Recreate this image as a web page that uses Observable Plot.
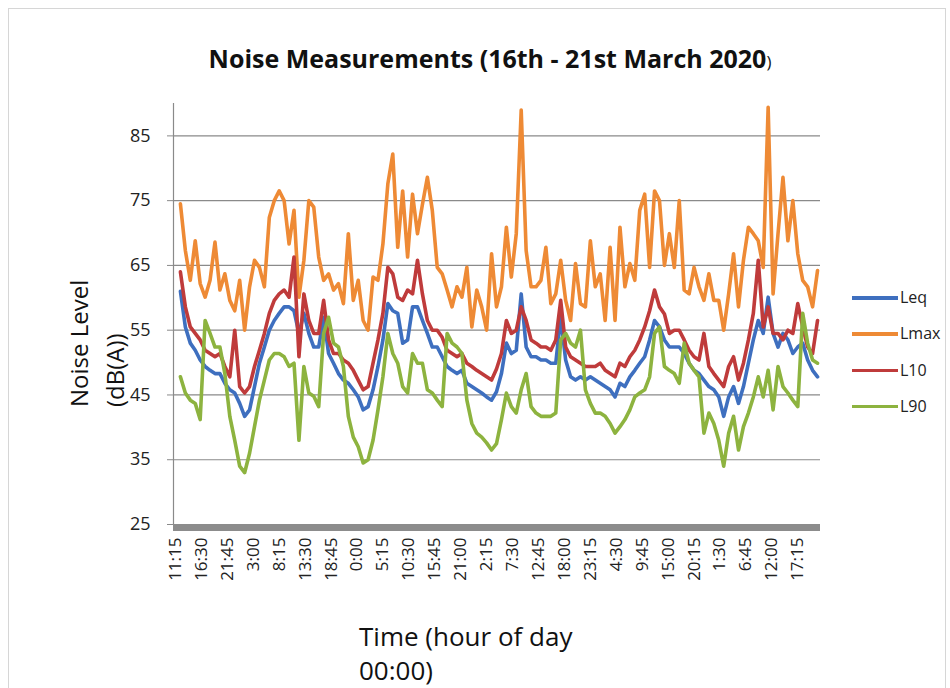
<!DOCTYPE html>
<html>
<head>
<meta charset="utf-8">
<script src="https://cdn.jsdelivr.net/npm/d3@7"></script>
<script src="https://cdn.jsdelivr.net/npm/@observablehq/plot@0.6"></script>
<style>
  body { margin: 0; background: #fff; font-family: "Open Sans", sans-serif; }
  #wrap { position: relative; width: 950px; height: 688px; overflow: hidden; background: #fff; }
  #frame { position: absolute; left: 8px; top: 8px; width: 936px; height: 700px; border: 1px solid #d6d6d6; }
  #chart { position: absolute; left: 0; top: 0; }
  #title { position: absolute; left: 0; width: 980px; top: 46px; text-align: center; font-size: 25px; line-height: 25px; font-weight: 700; color: #111; white-space: nowrap; }
  #title .small { font-size: 17px; font-weight: 400; }
  #overlay { position: absolute; left: 0; top: 0; }
  #legend { position: absolute; left: 852px; top: 286px; }
  .item { position: relative; height: 36.3px; }
  .item .sw { position: absolute; left: 0; top: 10px; width: 46px; height: 3.5px; }
  .item .lb { position: absolute; left: 48px; top: 0; font-size: 16px; line-height: 22px; color: #222; }
</style>
</head>
<body>
<div id="wrap">
  <div id="frame"></div>
  <div id="chart"></div>
  <div id="title">Noise Measurements (16th - 21st March 2020<span class="small">)</span></div>
  <svg id="overlay" width="950" height="688">
    <text transform="translate(88,407) rotate(-90)" font-family="Open Sans" font-size="24" fill="#111">Noise Level</text>
    <text transform="translate(124,407) rotate(-90)" font-family="Open Sans" font-size="24" fill="#111">(dB(A))</text>
    <text x="359" y="646" font-family="Open Sans" font-size="26" fill="#111">Time (hour of day</text>
    <text x="359" y="680" font-family="Open Sans" font-size="26" fill="#111">00:00)</text>
  </svg>
  <div id="legend"></div>
</div>
<script>
// Series names and colours
const seriesNames = ["Leq", "Lmax", "L10", "L90"];
const seriesColors = ["#3e6fbf", "#ee8a35", "#bf3b3b", "#8db33f"];

// Category tick labels (every 5h15m from 11:15 on 16 March)
const tickLabels = ["11:15","16:30","21:45","3:00","8:15","13:30","18:45","0:00","5:15","10:30",
  "15:45","21:00","2:15","7:30","12:45","18:00","23:15","4:30","9:45","15:00","20:15","1:30",
  "6:45","12:00","17:15"];
const tickStepHours = 5.25;

// Readings: hourly values, first reading 1 h after 11:15 on 16 March
const firstHour = 1;
const yTicks = [25, 35, 45, 55, 65, 75, 85];

const leq = [61,55.5,53,51.9,50.4,49.4,48.8,48.3,48.3,46.8,45.8,45.3,43.7,41.7,42.7,46.3,49.9,52.4,55,56.5,
  57.6,58.6,58.6,58,54.5,57.6,54.5,52.4,52.4,57,51.4,49.9,
  48.3,47.3,46.8,45.8,44.7,42.7,43.2,45.8,49.4,53.5,59.1,58,57.6,53,53.5,58.6,58.6,56.5,54.5,52.4,52.4,
  50.9,49.4,48.8,48.3,48.8,46.8,46.3,45.8,45.3,44.7,44.2,45.5,
  48.3,53,51.4,51.9,60.6,52.4,50.9,50.9,50.4,50.4,49.9,49.9,57,50.4,47.8,47.3,47.8,47.3,47.8,47.3,46.8,
  46.3,45.8,44.7,46.8,46.3,47.8,48.8,49.9,50.9,53.5,56.5,55.5,53.5,
  52.4,52.4,52.4,51.4,49.9,48.8,48.3,47.3,46.3,45.8,44.7,41.7,44.7,46.3,43.7,46.3,49.9,53.5,56.5,54.5,
  60.1,54.5,52.4,54.5,53.5,51.4,52.4,53,50.4,48.8,47.8];

const lmax = [74.5,67.3,62.7,68.8,62.2,60.1,62.7,68.6,61.2,63.7,59.6,58,62.7,55,61.7,65.8,64.7,61.7,72.4,75,
  76.5,75,68.3,73.5,60.1,65.8,75,74,66.3,62.7,63.7,61.2,
  62.2,59.1,69.9,59.6,62.7,56.5,55,63.2,62.7,68.3,77.6,82.2,67.8,76.5,66.3,76,69.9,74.4,78.6,73.5,64.7,
  63.7,61.2,58.6,61.7,60.1,64.7,55.5,61.2,58.6,55,66.8,58.6,
  61.7,70.9,63.2,69.9,89,67.3,61.7,61.7,62.7,67.8,59.1,60.6,65.8,59.6,56.5,65.3,59.1,58.6,68.8,61.7,63.7,
  56.5,67.8,56.5,70.9,61.7,65.3,62.7,73.5,76,64.7,76.5,75,65,
  69.9,64.7,75,61.2,60.6,64.7,61.7,59.6,63.7,59.6,59.6,55,60.6,66.8,58.6,65.8,70.9,69.9,68.8,64.7,
  89.4,60.6,69.9,78.6,68.8,75,66.8,62.7,61.7,58.6,64.2];

const l10 = [64,58.6,55.5,54.5,53.5,51.9,51.4,50.9,51.4,49.4,47.8,55,46.3,45.3,46.3,49.4,51.9,54.5,57.6,59.6,
  60.6,61.2,60.1,66.3,50.9,60.6,56.5,54.5,54.5,59.6,53.5,51.4,
  51.4,50.4,49.9,48.8,47.3,45.8,46.3,49.9,53.5,57.6,64.7,63.7,60.1,59.6,61.2,60.6,65.8,60.6,56.5,55,55,
  53.9,51.9,51.4,50.9,51.4,49.9,49.4,48.8,48.3,47.8,47.3,49,
  51.4,56.5,54.5,55,58.6,56.5,53.5,53,52.4,52.4,51.9,53.5,59.6,52.4,50.9,50.4,49.9,49.4,49.4,49.4,49.9,
  48.8,48.3,47.8,49.9,49.4,50.9,51.9,53.5,55.5,58,61.2,58.6,57.5,
  54.5,55,55,53.5,51.9,50.9,50.4,54.5,49.4,48.3,47.3,46.3,49.4,50.9,47.3,49.9,53.5,57.6,65.8,55.5,
  58.6,54.5,54.5,53.5,55,54.5,59.1,55.5,52.4,51.4,56.5];

const l90 = [47.8,45.3,44.2,43.7,41.2,56.5,54.5,52.4,52.4,48.3,41.7,38,34,33,36,40.1,44.2,47.3,50.4,51.4,
  51.4,50.9,49.4,49.9,38,49.4,45.3,44.8,43.2,54.5,57,53,
  52.4,49.4,41.7,38.5,37,34.5,35,38,42.7,47.8,54.5,51.4,49.9,46.3,45.3,51.4,49.9,49.9,45.8,45.3,44.2,
  43.2,54.5,53,52.4,51.4,44.2,40.6,39.1,38.5,37.6,36.5,37.5,
  41.2,45.3,43.2,42.2,45.8,48.3,43.2,42.2,41.7,41.7,41.7,42.2,53.5,54.5,53,52.4,55,45.8,43.7,42.2,42.2,
  41.7,40.6,39.1,40.1,41.2,42.7,44.7,45.3,45.8,47.8,54.5,55.5,49.4,
  48.8,48.3,46.8,53,49.9,48.8,47.8,39.1,42.2,40.6,38,34,39.1,41.7,36.5,40.1,42.2,44.7,47.8,44.7,
  48.8,42.7,49.4,46.3,45.3,44.2,43.2,57.6,53,50.4,49.9];

const seriesValues = [leq, lmax, l10, l90];
const rows = [];
seriesNames.forEach((name, si) => {
  seriesValues[si].forEach((v, i) => rows.push({ series: name, hour: firstHour + i, value: v }));
});
const tickHours = tickLabels.map((_, i) => i * tickStepHours);

const chart = Plot.plot({
  width: 950,
  height: 688,
  marginTop: 103,
  marginBottom: 164,
  marginLeft: 173,
  marginRight: 130,
  style: { fontFamily: "Open Sans", color: "#222", background: "transparent" },
  x: { domain: [-0.4, 130.6], axis: null },
  y: { domain: [25, 90], axis: null },
  color: { domain: seriesNames, range: seriesColors },
  marks: [
    Plot.gridY(yTicks, { stroke: "#8a8a8a", strokeOpacity: 1, strokeWidth: 1.2 }),
    Plot.frame({ anchor: "left", stroke: "#8a8a8a", strokeWidth: 1.2 }),
    Plot.axisY(yTicks, { tickSize: 6, tickPadding: 17, fontSize: 18, stroke: "#8a8a8a", label: null }),
    Plot.lineY(rows, { x: "hour", y: "value", z: "series", stroke: "series", strokeWidth: 3.6, strokeLinejoin: "round", strokeLinecap: "round" }),
    Plot.ruleY([yTicks[0]], { stroke: "#8c8c8c", strokeWidth: 7, dy: 3 }),
    Plot.axisX(tickHours, {
      tickSize: 0, tickPadding: 13, tickRotate: -90, fontSize: 17, label: null,
      tickFormat: d => tickLabels[Math.round(d / tickStepHours)]
    })
  ]
});
document.getElementById("chart").appendChild(chart);

const legend = document.getElementById("legend");
seriesNames.forEach((name, i) => {
  const item = document.createElement("div");
  item.className = "item";
  item.innerHTML = `<div class="sw" style="background:${seriesColors[i]}"></div><div class="lb">${name}</div>`;
  legend.appendChild(item);
});
</script>
</body>
</html>
